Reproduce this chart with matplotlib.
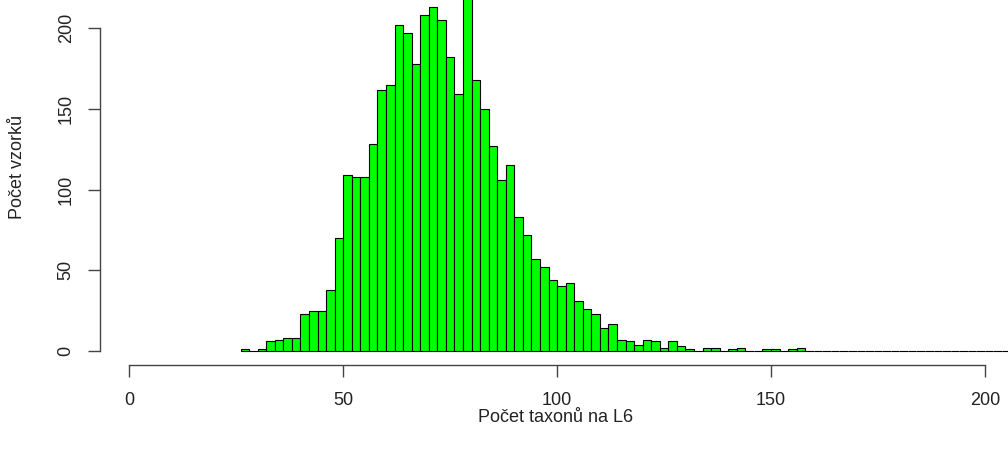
import matplotlib
matplotlib.use('Agg')
import matplotlib.pyplot as plt

plt.rcParams['font.family'] = ['Liberation Sans', 'DejaVu Sans']

# Histogram bins (left edges, width 2) and counts
bin_starts = [26, 28, 30, 32, 34, 36, 38, 40, 42, 44, 46, 48, 50, 52, 54, 56, 58, 60,
              62, 64, 66, 68, 70, 72, 74, 76, 78, 80, 82, 84, 86, 88, 90, 92, 94, 96,
              98, 100, 102, 104, 106, 108, 110, 112, 114, 116, 118, 120, 122, 124, 126,
              128, 130, 132, 134, 136, 138, 140, 142, 144, 146, 148, 150, 152, 154, 156,
              158, 160, 162, 164, 166, 168, 170, 172, 174, 176, 178, 180, 182, 184, 186,
              188, 190, 192, 194, 196, 198, 200, 202, 204, 206, 208]
counts = [1, 0, 1, 6, 7, 8, 8, 23, 25, 25, 38, 70, 109, 108, 108, 128, 162, 165,
          202, 197, 178, 208, 213, 205, 182, 159, 230, 168, 150, 127, 106, 115, 83, 72, 57, 52,
          44, 40, 42, 31, 26, 23, 14, 17, 7, 6, 4, 7, 6, 2, 6,
          3, 1, 0, 2, 2, 0, 1, 2, 0, 0, 1, 1, 0, 1, 2,
          0, 0, 0, 0, 0, 0, 0, 0, 0, 0, 0, 0, 0, 0, 0,
          0, 0, 0, 0, 0, 0, 0, 0, 0, 0, 0]
bin_width = 2

x_ticks = [0, 50, 100, 150, 200]
y_ticks = [0, 50, 100, 150, 200]
x_label = "Počet taxonů na L6"
y_label = "Počet vzorků"

W, H = 1008, 454
FS = 13
fig = plt.figure(figsize=(W / 100, H / 100), dpi=100)
ax = fig.add_axes([100 / W, (H - 365) / H, (W - 100) / W, 365 / H])

ax.bar(bin_starts, counts, width=bin_width, align='edge', color='#00ff00',
       edgecolor='black', linewidth=0.8)

ax.set_xlim(-6.85, 205.4)
ax.set_ylim(-8.68, 217.5)

for s in ['top', 'right']:
    ax.spines[s].set_visible(False)
for s in ['left', 'bottom']:
    ax.spines[s].set_color('#444444')
    ax.spines[s].set_linewidth(1.0)
ax.spines['bottom'].set_bounds(0, 200)
ax.spines['left'].set_bounds(0, 200)

ax.set_xticks(x_ticks)
ax.set_yticks(y_ticks)
ax.set_xticklabels([str(v) for v in x_ticks])
ax.set_yticklabels([str(v) for v in y_ticks])
ax.tick_params(axis='both', length=8.6, width=1.0, color='#444444',
               labelsize=FS, labelcolor='#222222', direction='out')
ax.tick_params(axis='x', pad=10.5)
ax.tick_params(axis='y', pad=9.6)
for lab in ax.get_yticklabels():
    lab.set_rotation(90)
    lab.set_va('center')
    lab.set_ha('right')

fig.text(556 / W, 1 - 418 / H, x_label, ha='center', va='center',
         fontsize=FS, color='#222222')
fig.text(18 / W, 1 - 167 / H, y_label, ha='center', va='center',
         rotation=90, fontsize=FS, color='#222222')

fig.savefig('out.png', dpi=100)
